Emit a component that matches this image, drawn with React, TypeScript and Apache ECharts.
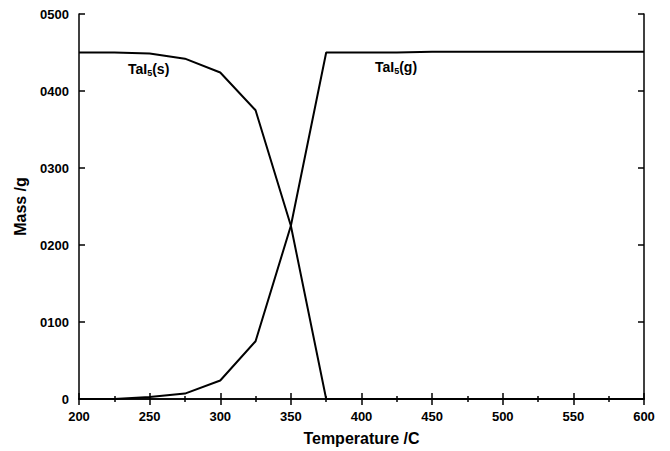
import React, { useEffect, useRef } from "react";
import * as echarts from "echarts";

const temps = [200, 225, 250, 275, 300, 325, 350, 375, 400, 425, 450, 475, 500, 525, 550, 575, 600];
const solid = [0.45, 0.45, 0.4486, 0.442, 0.424, 0.375, 0.225, 0, 0, 0, 0, 0, 0, 0, 0, 0, 0];
const gas = [0, 0, 0.0026, 0.007, 0.024, 0.075, 0.225, 0.45, 0.45, 0.45, 0.451, 0.451, 0.451, 0.451, 0.451, 0.451, 0.451];
const yTicks = ["0", "0100", "0200", "0300", "0400", "0500"];

const FONT = "Liberation Sans, Arial, sans-serif";

export default function App() {
  const ref = useRef<HTMLDivElement>(null);
  useEffect(() => {
    if (!ref.current) return;
    const chart = echarts.init(ref.current, undefined, { renderer: "svg" });
    const axisCommon = {
      axisLine: { show: true, lineStyle: { color: "#000", width: 1.5 } },
      splitLine: { show: false },
    };
    const xBase = {
      type: "value" as const,
      min: 200,
      max: 600,
      interval: 50,
      ...axisCommon,
      axisTick: { show: true, inside: true, length: 6, lineStyle: { color: "#000", width: 1.5 } },
      minorTick: { show: true, splitNumber: 2, length: 3, lineStyle: { color: "#000", width: 1.5 } },
    };
    const yBase = {
      type: "value" as const,
      min: 0,
      max: 0.5,
      interval: 0.1,
      ...axisCommon,
      axisTick: { show: true, inside: true, length: 6, lineStyle: { color: "#000", width: 1.5 } },
    };
    const sub = { fontSize: 9, fontWeight: "bold", fontFamily: FONT, color: "#000", padding: [7, 0, 0, 0] };
    const main = { fontSize: 14, fontWeight: "bold", fontFamily: FONT, color: "#000" };
    chart.setOption({
      animation: false,
      backgroundColor: "#fff",
      grid: { left: 79, right: 26, top: 14, bottom: 48 },
      xAxis: [
        {
          ...xBase,
          position: "bottom",
          name: "Temperature /C",
          nameLocation: "middle",
          nameGap: 31,
          nameTextStyle: { fontSize: 16, fontWeight: "bold", fontFamily: FONT, color: "#000" },
          axisLabel: { fontSize: 13, fontWeight: "bold", fontFamily: FONT, color: "#000", margin: 11 },
        },
        { ...xBase, position: "top", axisLabel: { show: false } },
      ],
      yAxis: [
        {
          ...yBase,
          position: "left",
          name: "Mass /g",
          nameLocation: "middle",
          nameGap: 51,
          nameTextStyle: { fontSize: 16, fontWeight: "bold", fontFamily: FONT, color: "#000" },
          axisLabel: {
            fontSize: 13,
            fontWeight: "bold",
            fontFamily: FONT,
            color: "#000",
            margin: 10,
            formatter: (v: number) => yTicks[Math.round(v * 10)] ?? "",
          },
        },
        { ...yBase, position: "right", axisLabel: { show: false } },
      ],
      series: [
        {
          type: "line",
          data: temps.map((t, i) => [t, solid[i]]),
          showSymbol: false,
          lineStyle: { color: "#000", width: 2 },
          z: 3,
        },
        {
          type: "line",
          data: temps.map((t, i) => [t, gas[i]]),
          showSymbol: false,
          lineStyle: { color: "#000", width: 2 },
          z: 3,
        },
      ],
      graphic: [
        {
          type: "text",
          left: 128,
          top: 62,
          style: { text: "{m|TaI}{s|5}{m|(s)}", rich: { m: main, s: sub } },
        },
        {
          type: "text",
          left: 375,
          top: 60,
          style: { text: "{m|TaI}{s|5}{m|(g)}", rich: { m: main, s: sub } },
        },
      ],
    });
    return () => chart.dispose();
  }, []);
  return <div ref={ref} style={{ position: "fixed", left: 0, top: 0, width: 670, height: 451 }} />;
}
